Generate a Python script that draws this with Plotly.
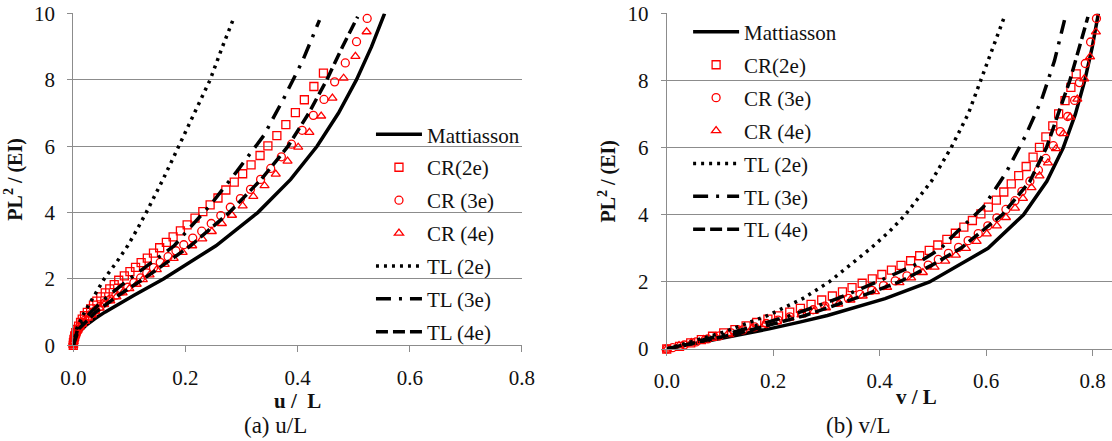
import plotly.graph_objects as go

# ---------------- data ----------------
# Mattiasson (reference solution)
P_M = [0, 0.2, 0.4, 0.6, 0.8, 1.0, 1.5, 2.0, 3.0, 4.0, 5.0, 6.0, 7.0, 8.0, 9.0, 10.0]
u_M = [0, 0.0027, 0.0104, 0.0225, 0.0382, 0.0564, 0.1076, 0.1606, 0.2544, 0.3289,
       0.3876, 0.4346, 0.4729, 0.5048, 0.5318, 0.5550]
v_M = [0, 0.0664, 0.1310, 0.1924, 0.2495, 0.3017, 0.4100, 0.4935, 0.6033, 0.6700,
       0.7138, 0.7446, 0.7674, 0.7850, 0.7991, 0.8106]

# CR (2e)
P_CR2 = [8.20, 7.80, 7.40, 7.01, 6.65, 6.32, 6.01, 5.72, 5.44, 5.17,
         4.92, 4.68, 4.44, 4.23, 4.03, 3.83, 3.63, 3.45, 3.27, 3.10,
         2.94, 2.78, 2.63, 2.49, 2.35, 2.22, 2.09, 1.96, 1.83, 1.70,
         1.58, 1.46, 1.33, 1.21, 1.10, 0.99, 0.89, 0.79, 0.69, 0.58,
         0.48, 0.38, 0.28, 0.18, 0.08, 0.00]
u_CR2 = [0.446, 0.429, 0.412, 0.396, 0.379, 0.363, 0.347, 0.333, 0.317, 0.302,
         0.287, 0.272, 0.258, 0.244, 0.231, 0.217, 0.203, 0.191, 0.178, 0.166,
         0.154, 0.143, 0.132, 0.121, 0.111, 0.101, 0.091, 0.081, 0.073, 0.065,
         0.057, 0.049, 0.042, 0.036, 0.031, 0.025, 0.020, 0.016, 0.013, 0.0095,
         0.0068, 0.0044, 0.0025, 0.0012, 0.0003, 0.0]
v_CR2 = [0.769, 0.759, 0.748, 0.736, 0.725, 0.712, 0.700, 0.688, 0.675, 0.661,
         0.647, 0.633, 0.619, 0.604, 0.590, 0.574, 0.558, 0.542, 0.526, 0.509,
         0.493, 0.475, 0.458, 0.440, 0.422, 0.404, 0.386, 0.367, 0.348, 0.330,
         0.311, 0.291, 0.271, 0.251, 0.231, 0.210, 0.190, 0.169, 0.149, 0.128,
         0.107, 0.086, 0.065, 0.045, 0.024, 0.0]

# CR (3e)
P_CR3 = [9.85, 9.15, 8.51, 7.94, 7.41, 6.93, 6.48, 6.06, 5.68, 5.33,
         5.00, 4.70, 4.42, 4.16, 3.91, 3.67, 3.44, 3.23, 3.03, 2.85,
         2.67, 2.50, 2.34, 2.18, 2.03, 1.89, 1.75, 1.63, 1.51, 1.39,
         1.28, 1.17, 1.06, 0.96, 0.86, 0.76, 0.66, 0.57, 0.48, 0.39,
         0.30, 0.21, 0.12, 0.04, 0.00]
u_CR3 = [0.524, 0.505, 0.485, 0.466, 0.447, 0.428, 0.408, 0.389, 0.371, 0.352,
         0.334, 0.316, 0.298, 0.280, 0.263, 0.246, 0.229, 0.213, 0.197, 0.183,
         0.169, 0.155, 0.143, 0.131, 0.120, 0.108, 0.097, 0.086, 0.076, 0.066,
         0.056, 0.048, 0.040, 0.033, 0.027, 0.021, 0.016, 0.012, 0.0085, 0.0056,
         0.0033, 0.0016, 0.0005, 0.0001, 0.0]
v_CR3 = [0.807, 0.796, 0.786, 0.775, 0.766, 0.753, 0.739, 0.726, 0.712, 0.698,
         0.682, 0.667, 0.654, 0.637, 0.620, 0.603, 0.585, 0.566, 0.548, 0.529,
         0.510, 0.491, 0.471, 0.451, 0.429, 0.407, 0.385, 0.363, 0.341, 0.319,
         0.297, 0.275, 0.253, 0.231, 0.209, 0.187, 0.165, 0.143, 0.121, 0.099,
         0.077, 0.055, 0.033, 0.011, 0.0]

# CR (4e)
P_CR4 = [9.45, 8.71, 8.05, 7.45, 6.91, 6.42, 5.97, 5.55, 5.16, 4.81,
         4.49, 4.20, 3.92, 3.67, 3.43, 3.21, 3.00, 2.80, 2.62, 2.44,
         2.28, 2.12, 1.98, 1.84, 1.71, 1.58, 1.46, 1.34, 1.23, 1.12,
         1.02, 0.92, 0.82, 0.73, 0.64, 0.55, 0.46, 0.37, 0.28, 0.19,
         0.10, 0.00]
u_CR4 = [0.523, 0.503, 0.482, 0.462, 0.442, 0.421, 0.401, 0.382, 0.361, 0.341,
         0.321, 0.302, 0.283, 0.265, 0.247, 0.230, 0.212, 0.195, 0.179, 0.163,
         0.149, 0.136, 0.124, 0.113, 0.100, 0.088, 0.077, 0.066, 0.055, 0.047,
         0.039, 0.033, 0.026, 0.021, 0.016, 0.0115, 0.008, 0.005, 0.003, 0.0013,
         0.0003, 0.0]
v_CR4 = [0.806, 0.795, 0.784, 0.771, 0.758, 0.745, 0.731, 0.716, 0.700, 0.685,
         0.669, 0.654, 0.637, 0.620, 0.601, 0.582, 0.562, 0.543, 0.523, 0.503,
         0.481, 0.459, 0.437, 0.414, 0.391, 0.368, 0.345, 0.322, 0.299, 0.276,
         0.253, 0.230, 0.207, 0.184, 0.161, 0.138, 0.115, 0.092, 0.069, 0.046,
         0.023, 0.0]

# TL (2e)
P_TL2 = [0, 0.5, 1.0, 1.5, 2.0, 2.5, 3.0, 3.5, 4.0, 5.0, 6.0, 7.0, 8.0, 9.0, 9.9]
u_TL2 = [0, 0.006, 0.020, 0.037, 0.055, 0.077, 0.097, 0.114, 0.130, 0.160,
         0.188, 0.216, 0.244, 0.266, 0.287]
v_TL2 = [0, 0.106, 0.190, 0.255, 0.305, 0.345, 0.383, 0.418, 0.448, 0.497,
         0.534, 0.566, 0.590, 0.614, 0.634]

# TL (3e)
P_TL3 = [0, 0.5, 1.0, 1.5, 2.0, 2.5, 3.0, 3.43, 4.24, 5.25, 6.33, 7.43, 8.58, 9.8]
u_TL3 = [0, 0.008, 0.031, 0.063, 0.100, 0.140, 0.180, 0.202, 0.245, 0.292,
         0.340, 0.375, 0.409, 0.439]
v_TL3 = [0, 0.125, 0.233, 0.320, 0.395, 0.465, 0.515, 0.541, 0.595, 0.637,
         0.673, 0.704, 0.728, 0.747]

# TL (4e)
P_TL4 = [0, 0.5, 1.0, 1.5, 2.0, 2.5, 3.0, 4.0, 5.0, 6.0, 7.0, 8.0, 9.0, 9.9]
u_TL4 = [0, 0.010, 0.040, 0.080, 0.125, 0.166, 0.209, 0.278, 0.335, 0.383,
         0.420, 0.452, 0.480, 0.507]
v_TL4 = [0, 0.142, 0.260, 0.352, 0.437, 0.498, 0.552, 0.630, 0.682, 0.713,
         0.735, 0.757, 0.775, 0.791]

legend_names = ["Mattiasson", "CR(2e)", "CR (3e)", "CR (4e)", "TL (2e)", "TL (3e)", "TL (4e)"]
x_tick_vals = [0.0, 0.2, 0.4, 0.6, 0.8]
y_tick_vals = [0, 2, 4, 6, 8, 10]

# ---------------- styles ----------------
FONT = "Liberation Serif"
RED = "#ff0000"
GRID = "#8c8c8c"
TXT = "#111111"

line_styles = {
    "Mattiasson": dict(color="black", width=3.5, dash="solid"),
    "TL (2e)": dict(color="black", width=3.5, dash="3px,5px"),
    "TL (3e)": dict(color="black", width=3.5, dash="15px,8px,3px,8px"),
    "TL (4e)": dict(color="black", width=3.5, dash="12px,5px"),
}
marker_styles = {
    "CR(2e)": "square-open",
    "CR (3e)": "circle-open",
    "CR (4e)": "triangle-up-open",
}

fig = go.Figure()

series = [
    (legend_names[0], P_M, u_M, v_M),
    (legend_names[1], P_CR2, u_CR2, v_CR2),
    (legend_names[2], P_CR3, u_CR3, v_CR3),
    (legend_names[3], P_CR4, u_CR4, v_CR4),
    (legend_names[4], P_TL2, u_TL2, v_TL2),
    (legend_names[5], P_TL3, u_TL3, v_TL3),
    (legend_names[6], P_TL4, u_TL4, v_TL4),
]

for panel, (xa, ya, leg) in enumerate([("x", "y", "legend"), ("x2", "y2", "legend2")]):
    for i, (name, P, u, v) in enumerate(series):
        xs = u if panel == 0 else v
        kw = dict(x=xs, y=P, name=name, xaxis=xa, yaxis=ya, legend=leg,
                  legendgroup=f"{leg}_{i}", cliponaxis=False)
        if name in marker_styles:
            fig.add_trace(go.Scatter(mode="markers", marker=dict(
                symbol=marker_styles[name], size=8, color=RED,
                line=dict(color=RED, width=1.3)), **kw))
        else:
            fig.add_trace(go.Scatter(mode="lines", line=line_styles[name], **kw))

axis_common = dict(
    showline=True, linecolor=GRID, linewidth=1, automargin=False,
    ticks="outside", tickcolor=GRID, tickwidth=1,
    tickfont=dict(family=FONT, size=21, color=TXT),
)

ytitle = dict(text="<b>PL<sup>2</sup> / (EI)</b>", font=dict(family=FONT, size=20, color=TXT), standoff=6)

fig.update_layout(
    width=1112, height=441,
    margin=dict(l=0, r=0, t=0, b=0, autoexpand=False),
    paper_bgcolor="white", plot_bgcolor="white",
    font=dict(family=FONT, color=TXT),
    xaxis=dict(domain=[0.0659, 0.4694], range=[0, 0.8], tickvals=x_tick_vals,
               tickformat=".1f", showgrid=False, zeroline=False, ticklen=6,
               ticklabelstandoff=7, anchor="y",
               title=dict(text="<b>u /  L</b>", font=dict(family=FONT, size=21, color=TXT), standoff=0),
               **axis_common),
    yaxis=dict(domain=[0.2170, 0.9694], range=[0, 10], tickvals=y_tick_vals,
               showgrid=True, gridcolor=GRID, gridwidth=1, zeroline=False, ticklen=5,
               ticklabelstandoff=8, anchor="x", title=ytitle, **axis_common),
    xaxis2=dict(domain=[0.5996, 1.0], range=[0, 0.8362], tickvals=x_tick_vals,
                tickformat=".1f", showgrid=False, zeroline=False, ticklen=6,
                ticklabelstandoff=7, anchor="y2", **axis_common),
    yaxis2=dict(domain=[0.2086, 0.9694], range=[0, 10], tickvals=y_tick_vals,
                showgrid=True, gridcolor=GRID, gridwidth=1, zeroline=False, ticklen=5,
                ticklabelstandoff=8, anchor="x2", title=ytitle, **axis_common),
    legend=dict(x=0.3336, y=0.741, xanchor="left", yanchor="top",
                bgcolor="rgba(0,0,0,0)", borderwidth=0, itemwidth=46,
                tracegroupgap=2.6, font=dict(family=FONT, size=21, color=TXT)),
    legend2=dict(x=0.6188, y=0.9735, xanchor="left", yanchor="top",
                 bgcolor="rgba(0,0,0,0)", borderwidth=0, itemwidth=46,
                 tracegroupgap=2.6, font=dict(family=FONT, size=21, color=TXT)),
    annotations=[
        dict(text="(a) u/L", x=0.2482, y=0.036, xref="paper", yref="paper",
             xanchor="center", yanchor="middle", showarrow=False,
             font=dict(family=FONT, size=23, color=TXT)),
        dict(text="(b) v/L", x=0.7716, y=0.036, xref="paper", yref="paper",
             xanchor="center", yanchor="middle", showarrow=False,
             font=dict(family=FONT, size=23, color=TXT)),
        dict(text="<b>v / L</b>", x=0.8246, y=0.0998, xref="paper", yref="paper",
             xanchor="center", yanchor="middle", showarrow=False,
             font=dict(family=FONT, size=21, color=TXT)),
    ],
)

fig.write_html(
    "out.html",
    config={"displayModeBar": False},
    post_script="document.body.style.margin='0';document.body.style.overflow='hidden';",
)
